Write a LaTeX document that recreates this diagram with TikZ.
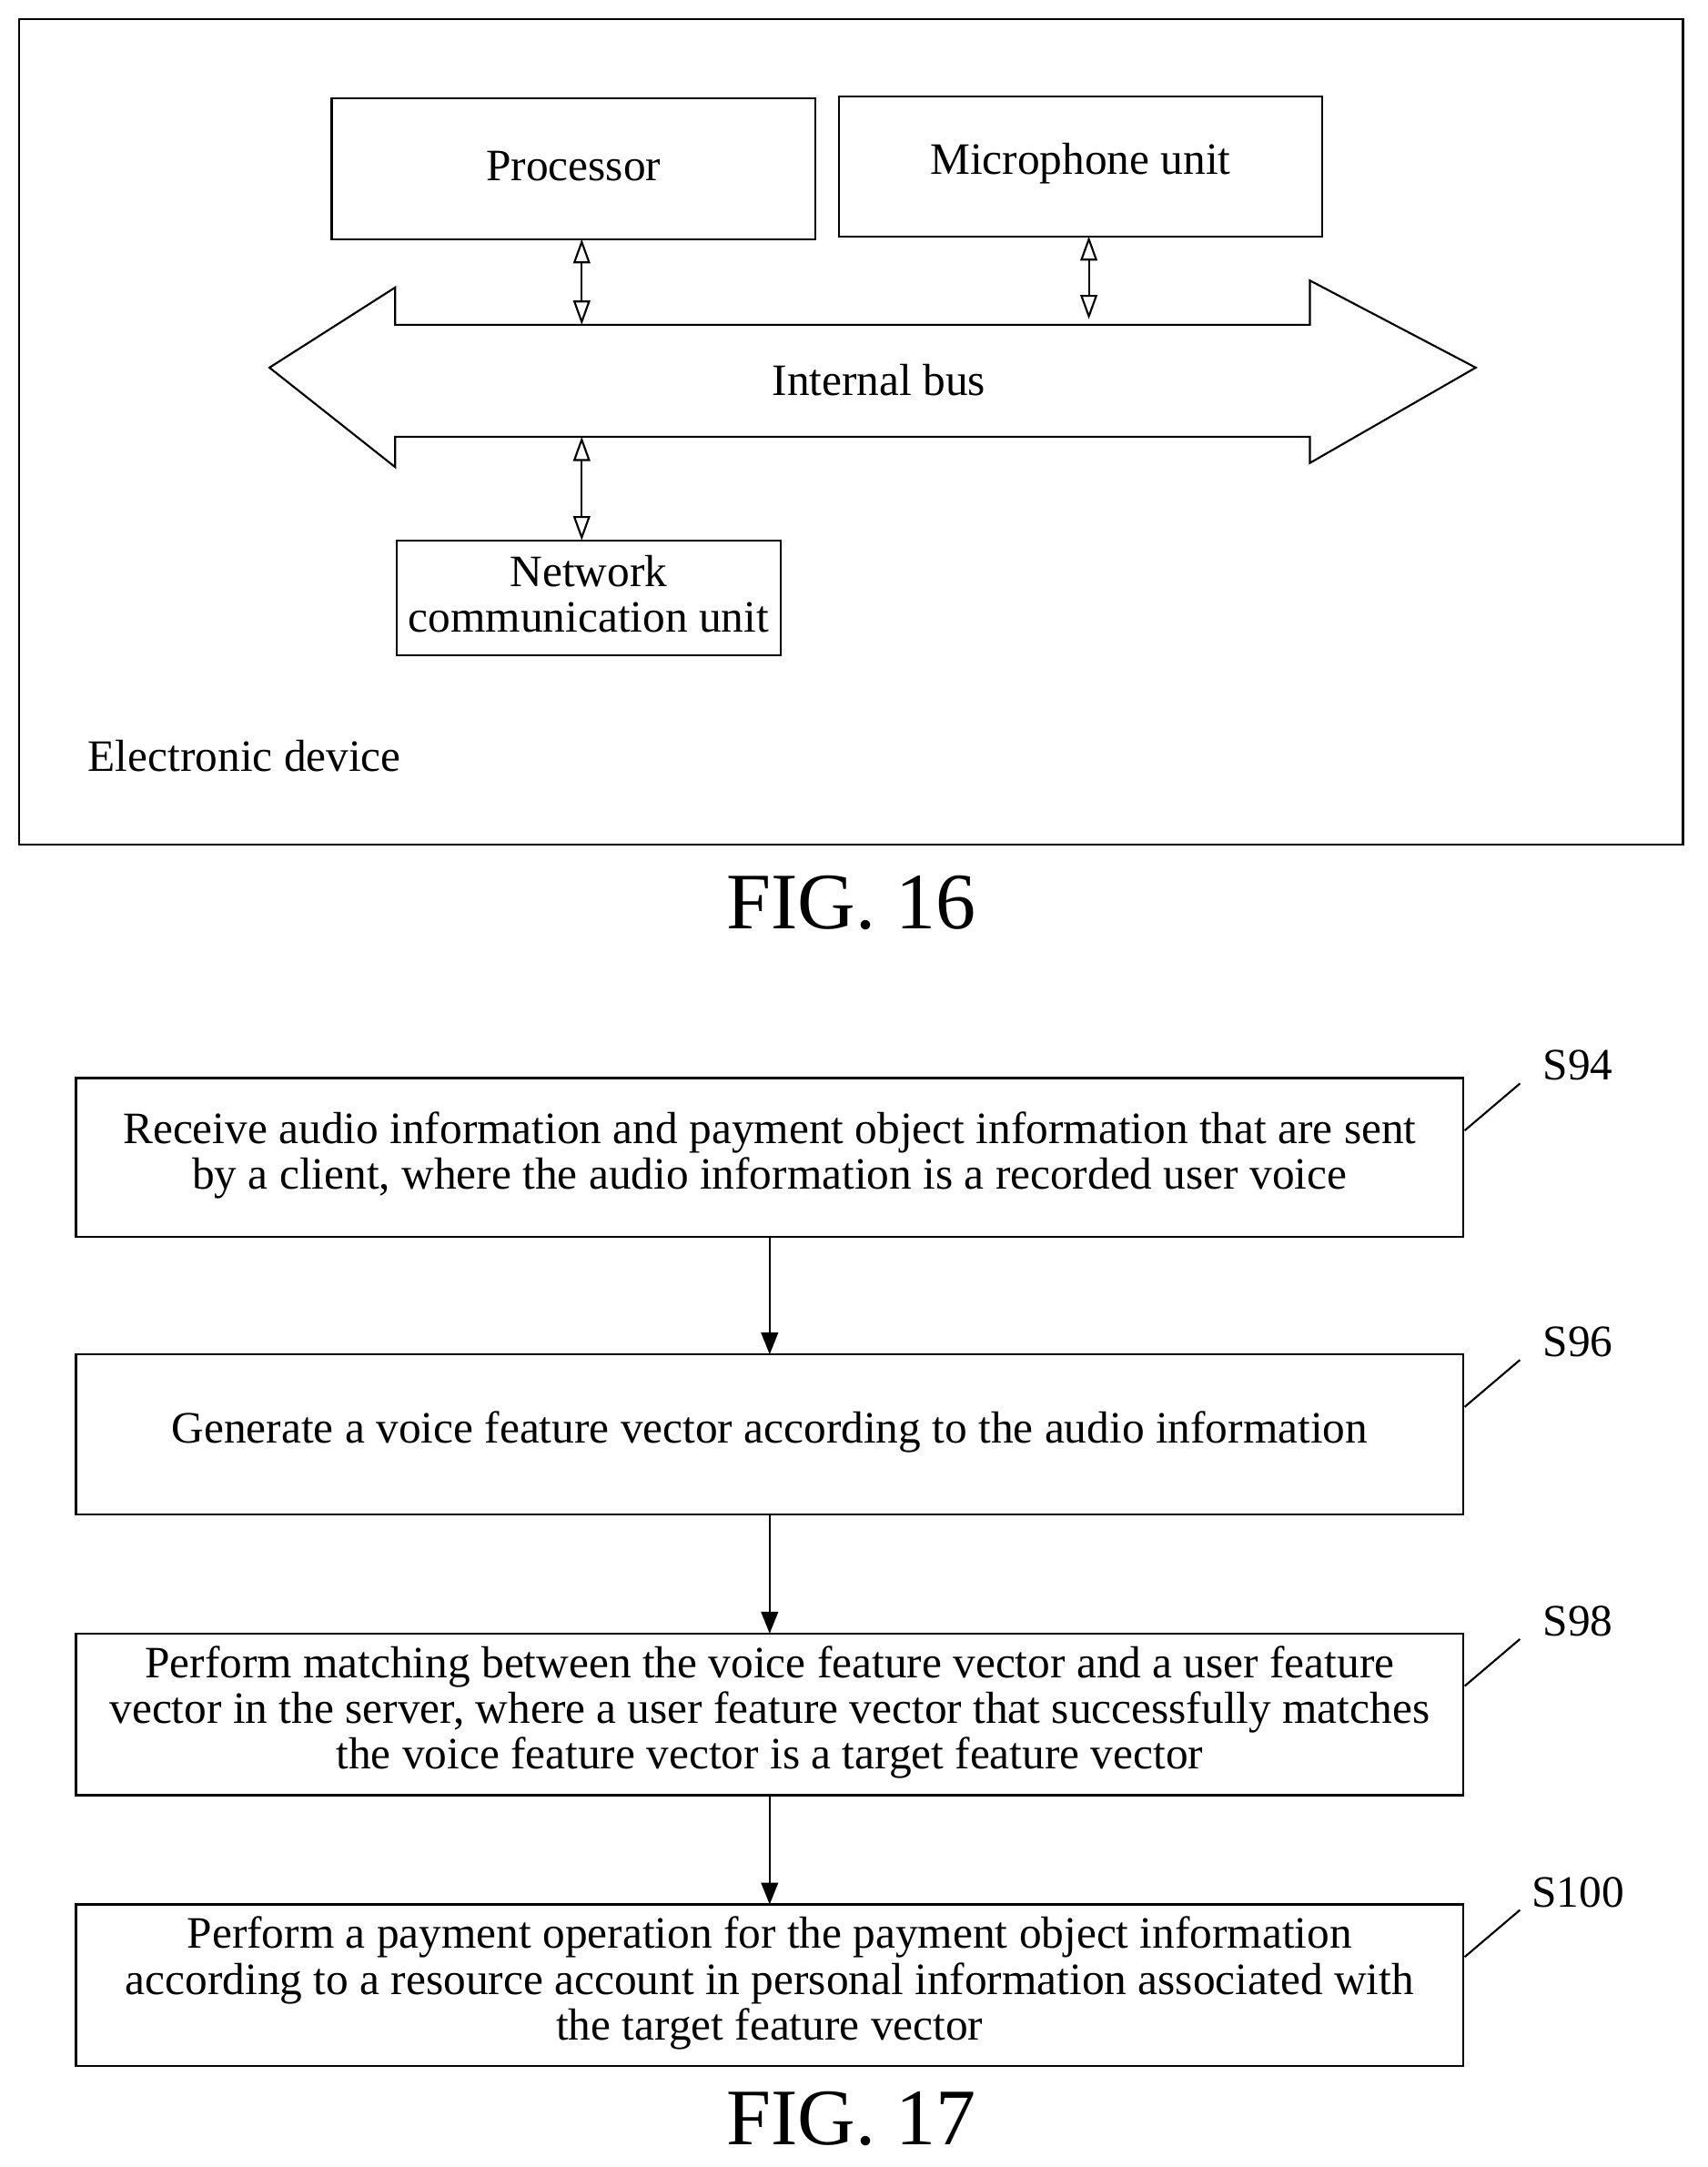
\documentclass[tikz,border=0pt]{standalone}
\usepackage{fontspec}
\setmainfont{Liberation Serif}
\usetikzlibrary{arrows.meta}
\begin{document}
\begin{tikzpicture}[x=0.02cm,y=-0.02cm,
	box/.style={draw, thick, inner sep=0pt},
	txt/.style={font=\fontsize{18.5}{18.8}\selectfont, align=center},
	dbl/.style={{Triangle[open,length=10pt,width=7pt]}-{Triangle[open,length=10pt,width=7pt]}, thick},
	flow/.style={-{Triangle[length=9pt,width=7pt]}, thick},
	fig/.style={font=\fontsize{33}{36}\selectfont}]
	
	\useasboundingbox (0,0) rectangle (1236,1568);
	
	% FIG. 16
	\draw [thick] (14,14) rectangle (1218,611);
	\draw [box] (240,71) rectangle (590,173);
	\node [txt] (proc) at (415,120) {Processor};
	\draw [box] (607,70) rectangle (957,171);
	\node [txt] (mic) at (782,118) {Microphone unit};
	\draw [box] (287,391) rectangle (565,474);
	\node [txt] (net) at (426,430) {Network\\communication unit};
	\draw [thick] (195,266) -- (286,208) -- (286,235) -- (948,235) -- (948,203)
		-- (1068,266) -- (948,335) -- (948,316) -- (286,316) -- (286,338) -- cycle;
	\node [txt] (bus) at (636,275) {Internal bus};
	\node [txt] (dev) at (177,547) {Electronic device};
	\coordinate (p1) at (421,173); \coordinate (p2) at (421,235);
	\coordinate (m1) at (788,171); \coordinate (m2) at (788,231);
	\coordinate (n1) at (421,316); \coordinate (n2) at (421,391);
	\draw [dbl] (p1) -- (p2);
	\draw [dbl] (m1) -- (m2);
	\draw [dbl] (n1) -- (n2);
	\node [fig] (f16) at (616,653) {FIG. 16};
	
	% FIG. 17
	\foreach \name/\top/\bot/\lab in {a/780/895/S94, b/980/1096/S96, c/1182/1299/S98, d/1378/1495/S100} {
		\draw [box] (55,\top) rectangle (1059,\bot);
		\coordinate (\name t) at (557,\top);
		\coordinate (\name b) at (557,\bot);
		\draw [thick] (1060,\top+38) -- (1100,\top+4);
		\node [txt] at (1142,\top-9) {\lab};
	}
	\node [txt] (s94) at (557,836) {Receive audio information and payment object information that are sent\\by a client, where the audio information is a recorded user voice};
	\node [txt] (s96) at (557,1036) {Generate a voice feature vector according to the audio information};
	\node [txt] (s98) at (557,1239) {Perform matching between the voice feature vector and a user feature\\vector in the server, where a user feature vector that successfully matches\\the voice feature vector is a target feature vector};
	\node [txt] (s100) at (557,1435) {Perform a payment operation for the payment object information\\according to a resource account in personal information associated with\\the target feature vector};
	\draw [flow] (ab) -- (bt);
	\draw [flow] (bb) -- (ct);
	\draw [flow] (cb) -- (dt);
	\node [fig] (f17) at (616,1533) {FIG. 17};
	
\end{tikzpicture}
\end{document}
